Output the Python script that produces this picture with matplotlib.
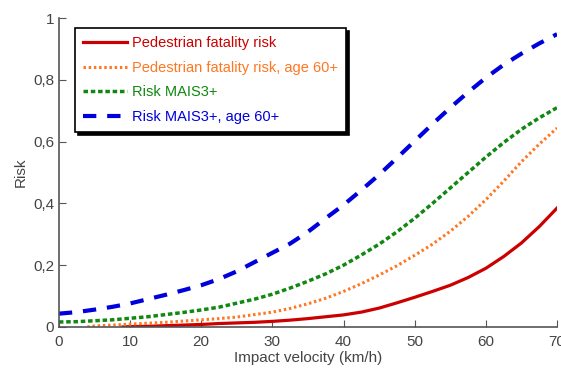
import matplotlib.pyplot as plt
from matplotlib.ticker import FuncFormatter

plt.rcParams['font.family'] = ['Liberation Sans', 'DejaVu Sans']

# values, km/h -> risk
v_red = [9, 10, 12.5, 15, 17.5, 20, 22.5, 25, 27.5, 30, 32.5, 35, 37.5, 40, 42.5,
         45, 47.5, 50, 52.5, 55, 57.5, 60, 62.5, 65, 67.5, 70]
fatal = [0.0, 0.001, 0.002, 0.004, 0.006, 0.008, 0.011, 0.013, 0.015, 0.018, 0.022,
         0.027, 0.033, 0.039, 0.048, 0.061, 0.078, 0.096, 0.115, 0.135, 0.16, 0.19,
         0.228, 0.272, 0.325, 0.385]

v_or = [4, 5, 7.5, 10, 12.5, 15, 17.5, 20, 22.5, 25, 27.5, 30, 32.5, 35, 37.5, 40,
        42.5, 45, 47.5, 50, 52.5, 55, 57.5, 60, 62.5, 65, 67.5, 70]
fatal60 = [0.0, 0.003, 0.006, 0.009, 0.012, 0.015, 0.019, 0.023, 0.027, 0.032, 0.04,
           0.048, 0.06, 0.075, 0.093, 0.115, 0.14, 0.168, 0.198, 0.232, 0.268, 0.31,
           0.358, 0.412, 0.472, 0.535, 0.592, 0.644]

v = [0, 2.5, 5, 7.5, 10, 12.5, 15, 17.5, 20, 22.5, 25, 27.5, 30, 32.5, 35, 37.5, 40,
     42.5, 45, 47.5, 50, 52.5, 55, 57.5, 60, 62.5, 65, 67.5, 70]
mais3 = [0.016, 0.017, 0.02, 0.023, 0.028, 0.033, 0.04, 0.047, 0.055, 0.064, 0.077,
         0.09, 0.106, 0.126, 0.148, 0.172, 0.2, 0.233, 0.268, 0.308, 0.352, 0.40, 0.45,
         0.50, 0.55, 0.597, 0.64, 0.677, 0.71]
mais3_60 = [0.043, 0.048, 0.056, 0.065, 0.076, 0.09, 0.104, 0.119, 0.135, 0.155, 0.18,
            0.21, 0.24, 0.27, 0.308, 0.352, 0.395, 0.443, 0.493, 0.547, 0.602, 0.657,
            0.71, 0.76, 0.807, 0.849, 0.885, 0.918, 0.948]

labels = ['Pedestrian fatality risk', 'Pedestrian fatality risk, age 60+',
          'Risk MAIS3+', 'Risk MAIS3+, age 60+']
colors = ['#cc0000', '#ff7722', '#118811', '#0000dd']

fig = plt.figure(figsize=(5.61, 3.69), dpi=100)
ax = fig.add_axes([0.105, 0.114, 0.888, 0.837])

ax.plot(v_red, fatal, color=colors[0], lw=2.3, label=labels[0])
ax.plot(v_or, fatal60, color=colors[1], lw=2.2, linestyle=(0, (0.8, 0.9)), label=labels[1])
ax.plot(v, mais3, color=colors[2], lw=2.5, linestyle=(0, (1.3, 0.8)), label=labels[2])
ax.plot(v, mais3_60, color=colors[3], lw=3, linestyle=(0, (3.2, 2.6)), label=labels[3])

ax.set_xlim(0, 70)
ax.set_ylim(0, 1)
ax.set_xticks(range(0, 71, 10))
ax.set_yticks([0, 0.2, 0.4, 0.6, 0.8, 1])
ax.yaxis.set_major_formatter(FuncFormatter(lambda y, p: ('%g' % y).replace('.', ',')))

for s in ['top', 'right']:
    ax.spines[s].set_visible(False)
for s in ['left', 'bottom']:
    ax.spines[s].set_color('#555555')
    ax.spines[s].set_linewidth(1.2)
ax.tick_params(direction='in', length=5, color='#555555', labelcolor='#444444', labelsize=11)
ax.tick_params(axis='x', pad=6)
ax.set_xlabel('Impact velocity (km/h)', color='#444444', fontsize=11, labelpad=1)
ax.set_ylabel('Risk', color='#444444', fontsize=11, labelpad=4)

leg = ax.legend(loc='upper left', bbox_to_anchor=(0.032, 0.967), borderaxespad=0,
                fontsize=10.5, frameon=True, fancybox=False,
                shadow={'color': 'black', 'alpha': 1}, handlelength=3.0,
                handletextpad=0.35, labelspacing=0.72, borderpad=0.55)
leg.get_frame().set_edgecolor('black')
leg.get_frame().set_linewidth(1.2)
for t, c in zip(leg.get_texts(), colors):
    t.set_color(c)

fig.savefig('out.png', dpi=100)
